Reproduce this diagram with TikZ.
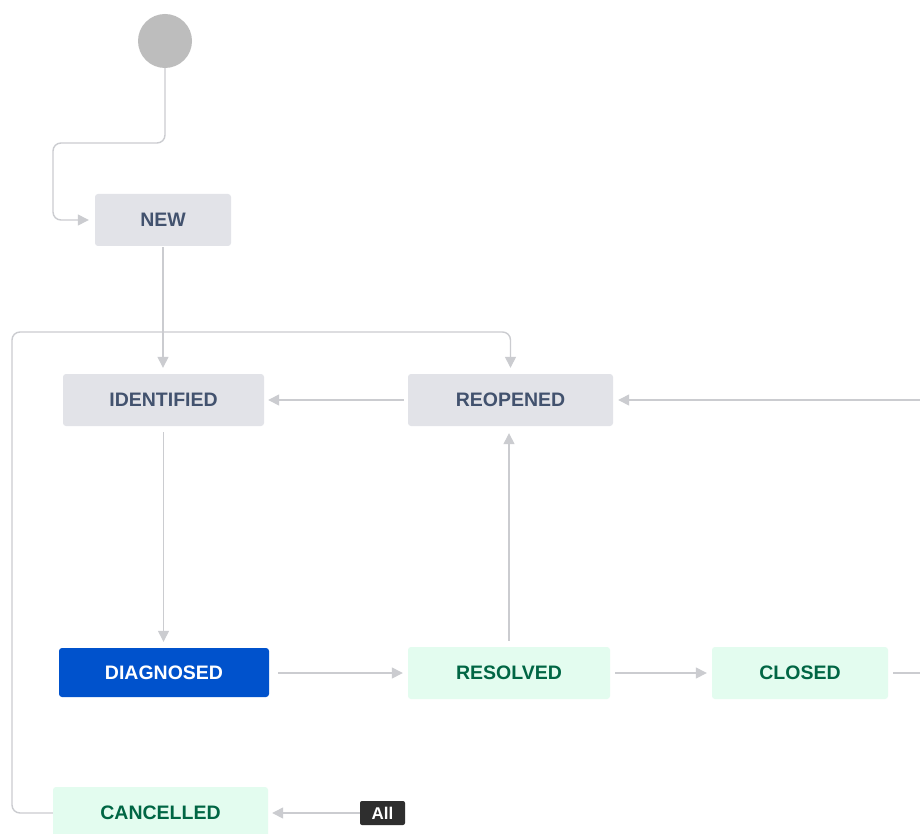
\documentclass[tikz,border=0pt]{standalone}
\usepackage{fontspec}
\setmainfont{Liberation Sans}
\usetikzlibrary{arrows.meta}
\definecolor{lineg}{HTML}{CBCCD0}
\definecolor{boxg}{HTML}{E2E3E8}
\definecolor{txtg}{HTML}{42526E}
\definecolor{boxgreen}{HTML}{E3FCEF}
\definecolor{txtgreen}{HTML}{006644}
\definecolor{boxblue}{HTML}{0052CC}
\definecolor{badge}{HTML}{2E2E2E}
\definecolor{startg}{HTML}{BDBDBD}
\begin{document}
\begin{tikzpicture}[x=1pt,y=-1pt,
  state/.style={rounded corners=3pt, inner sep=0pt, font=\fontsize{19.5}{21}\selectfont\bfseries},
  graystate/.style={state, fill=boxg, text=txtg},
  greenstate/.style={state, fill=boxgreen, text=txtgreen},
  bluestate/.style={state, fill=boxblue, text=white},
  conn/.style={draw=lineg, line width=1.4pt, -{Triangle[length=11pt,width=11pt]}, rounded corners=8pt},
  plain/.style={draw=lineg, line width=1.4pt}]
  % page area
  \path[use as bounding box, fill=white] (0,0) rectangle (920,834);

  % states
  \node[circle, fill=startg, minimum size=54pt, inner sep=0pt] (start) at (165,41) {};
  \node[graystate, minimum width=136pt, minimum height=52pt] (new) at (163,220) {NEW};
  \node[graystate, minimum width=201pt, minimum height=52pt] (identified) at (163.5,400) {IDENTIFIED};
  \node[graystate, minimum width=205pt, minimum height=52pt] (reopened) at (510.5,400) {REOPENED};
  \node[bluestate, minimum width=210pt, minimum height=49pt] (diagnosed) at (164,672.5) {DIAGNOSED};
  \node[greenstate, minimum width=202pt, minimum height=52pt] (resolved) at (509,673) {RESOLVED};
  \node[greenstate, minimum width=176pt, minimum height=52pt] (closed) at (800,673) {CLOSED};
  \node[greenstate, minimum width=215pt, minimum height=52pt] (cancelled) at (160.5,813) {CANCELLED};
  \node[fill=badge, text=white, rounded corners=2pt, inner sep=0pt, minimum width=45pt, minimum height=24pt,
        font=\fontsize{17}{18}\selectfont\bfseries] (all) at (382.5,813) {All};

  % free ends at the right border
  \coordinate (rin) at (920,400);
  \coordinate (cout) at (920,673);

  % transitions
  \draw[conn, shorten >=6pt] (start.south) -- (165,143) -- (53,143) -- (53,220) -- (new.west);
  \draw[conn, shorten <=1pt, shorten >=6pt] (new.south) -- (new.south |- identified.north);
  \draw[conn, shorten <=4pt, shorten >=4pt] (reopened.west) -- (identified.east);
  \draw[conn, shorten >=5pt] (rin) -- (reopened.east);
  \draw[conn, shorten >=6pt] (cancelled.west) -- (12,813) -- (12,332) -- (510.5,332) -- (reopened.north);
  \draw[conn, shorten <=6pt, shorten >=6pt] (identified.south) -- (identified.south |- diagnosed.north);
  \draw[conn, shorten <=9pt, shorten >=5pt] (diagnosed.east |- resolved.west) -- (resolved.west);
  \draw[conn, shorten <=6pt, shorten >=7pt] (resolved.north) -- (resolved.north |- reopened.south);
  \draw[conn, shorten <=5pt, shorten >=5pt] (resolved.east) -- (closed.west);
  \draw[plain, shorten <=5pt] (closed.east) -- (cout);
  \draw[conn, shorten >=4pt] (all.west) -- (cancelled.east);
\end{tikzpicture}
\end{document}
